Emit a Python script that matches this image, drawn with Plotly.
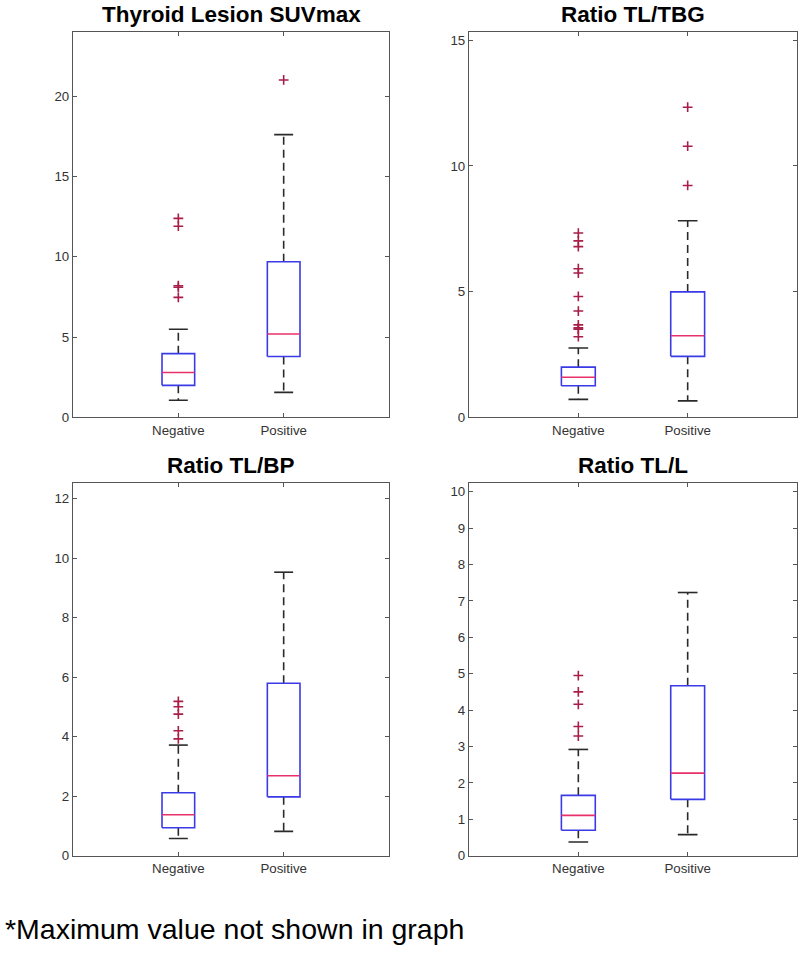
import plotly.graph_objects as go

categories = ["Negative", "Positive"]
titles = ["Thyroid Lesion SUVmax", "Ratio TL/TBG", "Ratio TL/BP", "Ratio TL/L"]

# Panel 1: Thyroid Lesion SUVmax
suv_lower = [1.07, 1.56]
suv_q1 = [2.00, 3.79]
suv_median = [2.80, 5.19]
suv_q3 = [3.97, 9.69]
suv_upper = [5.49, 17.6]
suv_out_neg = [7.47, 8.10, 8.20, 11.9, 12.39]
suv_out_pos = [21.0]

# Panel 2: Ratio TL/TBG
tbg_lower = [0.72, 0.66]
tbg_q1 = [1.26, 2.43]
tbg_median = [1.60, 3.25]
tbg_q3 = [2.00, 4.99]
tbg_upper = [2.76, 7.82]
tbg_out_neg = [3.21, 3.51, 3.56, 3.68, 4.23, 4.81, 5.74, 5.91, 6.79, 7.02, 7.33]
tbg_out_pos = [9.22, 10.78, 12.33]

# Panel 3: Ratio TL/BP
bp_lower = [0.58, 0.82]
bp_q1 = [0.94, 1.98]
bp_median = [1.38, 2.69]
bp_q3 = [2.12, 5.80]
bp_upper = [3.72, 9.53]
bp_out_neg = [3.93, 4.20, 4.76, 5.01, 5.19]
bp_out_pos = []

# Panel 4: Ratio TL/L
l_lower = [0.38, 0.58]
l_q1 = [0.70, 1.55]
l_median = [1.11, 2.27]
l_q3 = [1.66, 4.67]
l_upper = [2.92, 7.23]
l_out_neg = [3.29, 3.55, 4.16, 4.50, 4.95]
l_out_pos = []

y_ranges = [[0, 24], [0, 15.33], [0, 12.53], [0, 10.24]]
y_dticks = [5, 5, 2, 1]

panels = [
    (suv_lower, suv_q1, suv_median, suv_q3, suv_upper, [suv_out_neg, suv_out_pos]),
    (tbg_lower, tbg_q1, tbg_median, tbg_q3, tbg_upper, [tbg_out_neg, tbg_out_pos]),
    (bp_lower, bp_q1, bp_median, bp_q3, bp_upper, [bp_out_neg, bp_out_pos]),
    (l_lower, l_q1, l_median, l_q3, l_upper, [l_out_neg, l_out_pos]),
]

W, H = 800, 955
x_doms = [[73 / W, 389 / W], [469 / W, 797 / W], [73 / W, 389 / W], [469 / W, 797 / W]]
y_doms = [[1 - 421 / H, 1 - 32 / H], [1 - 421 / H, 1 - 32 / H],
          [1 - 863 / H, 1 - 487 / H], [1 - 863 / H, 1 - 487 / H]]

BOX_HALF = 0.155
CAP_HALF = 0.09
BOX_COLOR = "#3a3ae6"
MED_COLOR = "#e8306a"
WHISK_COLOR = "#2a2a2a"
OUT_COLOR = "#a81e48"
AXIS_COLOR = "#555555"
FONT = "Liberation Sans, Arial, Helvetica, sans-serif"

fig = go.Figure()

for p, (lo, q1, med, q3, up, outs) in enumerate(panels):
    xa = "x" if p == 0 else f"x{p+1}"
    ya = "y" if p == 0 else f"y{p+1}"
    for i in range(len(categories)):
        c = i + 1
        # whiskers (dashed)
        fig.add_trace(go.Scatter(x=[c, c, None, c, c], y=[q3[i], up[i], None, q1[i], lo[i]],
                                 mode="lines", line=dict(color=WHISK_COLOR, width=1.6, dash="8px,5px"),
                                 xaxis=xa, yaxis=ya, hoverinfo="skip"))
        # caps
        fig.add_trace(go.Scatter(x=[c - CAP_HALF, c + CAP_HALF, None, c - CAP_HALF, c + CAP_HALF],
                                 y=[up[i], up[i], None, lo[i], lo[i]],
                                 mode="lines", line=dict(color=WHISK_COLOR, width=1.6),
                                 xaxis=xa, yaxis=ya, hoverinfo="skip"))
        # box
        fig.add_trace(go.Scatter(x=[c - BOX_HALF, c + BOX_HALF, c + BOX_HALF, c - BOX_HALF, c - BOX_HALF],
                                 y=[q1[i], q1[i], q3[i], q3[i], q1[i]],
                                 mode="lines", line=dict(color=BOX_COLOR, width=1.6),
                                 xaxis=xa, yaxis=ya, hoverinfo="skip"))
        # median
        fig.add_trace(go.Scatter(x=[c - BOX_HALF, c + BOX_HALF], y=[med[i], med[i]],
                                 mode="lines", line=dict(color=MED_COLOR, width=1.6),
                                 xaxis=xa, yaxis=ya, hoverinfo="skip"))
        # outliers
        if outs[i]:
            fig.add_trace(go.Scatter(x=[c] * len(outs[i]), y=outs[i], mode="markers",
                                     marker=dict(symbol="cross-thin", size=7,
                                                 line=dict(color=OUT_COLOR, width=1.6)),
                                     xaxis=xa, yaxis=ya, hoverinfo="skip"))

layout = dict(
    width=W, height=H, showlegend=False,
    plot_bgcolor="white", paper_bgcolor="white",
    margin=dict(l=0, r=0, t=0, b=0),
    font=dict(family=FONT, color="#333333", size=13),
)

for p in range(4):
    xk = "xaxis" if p == 0 else f"xaxis{p+1}"
    yk = "yaxis" if p == 0 else f"yaxis{p+1}"
    ya = "y" if p == 0 else f"y{p+1}"
    xa = "x" if p == 0 else f"x{p+1}"
    layout[xk] = dict(domain=x_doms[p], anchor=ya, range=[0, 3],
                      tickvals=[1, 2], ticktext=categories,
                      ticks="inside", ticklen=4, tickcolor=AXIS_COLOR,
                      showline=True, linecolor=AXIS_COLOR, linewidth=1.2,
                      mirror="ticks", showgrid=False, zeroline=False,
                      tickfont=dict(size=13.3, color="#333333"))
    layout[yk] = dict(domain=y_doms[p], anchor=xa, range=y_ranges[p],
                      dtick=y_dticks[p], tick0=0,
                      ticks="inside", ticklen=4, tickcolor=AXIS_COLOR,
                      showline=True, linecolor=AXIS_COLOR, linewidth=1.2,
                      mirror="ticks", showgrid=False, zeroline=False,
                      tickfont=dict(size=13.3, color="#333333"))

fig.update_layout(**layout)

annotations = []
for p in range(4):
    xc = (x_doms[p][0] + x_doms[p][1]) / 2
    annotations.append(dict(text=f"<b>{titles[p]}</b>", x=xc, y=y_doms[p][1], xref="paper", yref="paper",
                            xanchor="center", yanchor="bottom", yshift=3, showarrow=False,
                            font=dict(size=22.5, color="black", family=FONT)))
annotations.append(dict(text="*Maximum value not shown in graph", x=3 / W, y=1 - 937 / H,
                        xref="paper", yref="paper", xanchor="left", yanchor="middle",
                        showarrow=False,
                        font=dict(size=28.5, color="black", family=FONT)))
fig.update_layout(annotations=annotations)

fig.write_html("out.html", config={"displayModeBar": False},
               post_script="document.body.style.margin='0';document.body.style.overflow='hidden';")
